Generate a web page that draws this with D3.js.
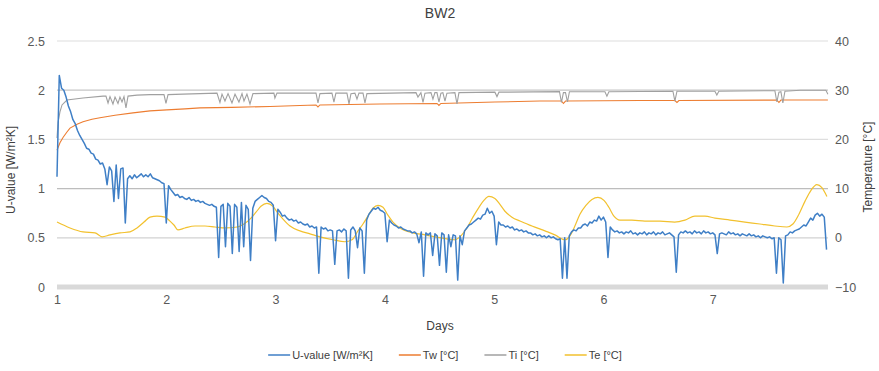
<!DOCTYPE html>
<html>
<head>
<meta charset="utf-8">
<script src="https://cdn.jsdelivr.net/npm/d3@7"></script>
<style>
  body { margin: 0; background: #fff; }
  text { font-family: "Liberation Sans", Arial, sans-serif; }
</style>
</head>
<body>
<svg id="chart" width="879" height="371"></svg>
<script>
// U-value logged every half hour, starting at day 1
const uStartDay = 1;
const uStepDays = 1 / 48;
const uValue = [
  // day 1
  1.12,2.15,2.02,2.00,1.93,1.84,1.78,1.70,1.66,1.59,1.54,1.50,1.46,1.41,1.40,1.36,
  1.35,1.30,1.29,1.25,1.26,1.20,1.04,1.22,1.18,0.87,1.24,0.90,1.20,1.21,0.65,1.10,
  1.13,1.10,1.14,1.11,1.13,1.15,1.12,1.14,1.12,1.15,1.11,1.10,1.09,1.08,1.06,1.05,
  // day 2
  0.65,1.03,0.99,0.96,0.93,0.94,0.91,0.92,0.90,0.89,0.91,0.88,0.89,0.87,0.88,0.86,
  0.87,0.85,0.84,0.83,0.84,0.82,0.81,0.30,0.82,0.84,0.41,0.85,0.82,0.34,0.84,0.81,
  0.36,0.86,0.41,0.83,0.79,0.27,0.80,0.87,0.89,0.91,0.93,0.91,0.90,0.87,0.86,0.83,
  // day 3
  0.47,0.79,0.76,0.72,0.73,0.70,0.68,0.69,0.67,0.68,0.65,0.66,0.64,0.63,0.64,0.61,
  0.62,0.60,0.61,0.14,0.61,0.59,0.60,0.57,0.58,0.57,0.23,0.57,0.58,0.56,0.59,0.57,
  0.09,0.58,0.61,0.57,0.40,0.60,0.57,0.14,0.68,0.74,0.77,0.80,0.79,0.81,0.78,0.77,
  // day 4
  0.75,0.46,0.68,0.65,0.63,0.62,0.60,0.61,0.59,0.58,0.57,0.57,0.55,0.56,0.54,0.45,
  0.56,0.11,0.55,0.53,0.55,0.32,0.54,0.52,0.22,0.55,0.53,0.15,0.53,0.41,0.53,0.52,
  0.07,0.52,0.43,0.57,0.60,0.63,0.64,0.66,0.68,0.70,0.69,0.73,0.74,0.80,0.75,0.77,
  // day 5
  0.72,0.43,0.66,0.63,0.63,0.61,0.62,0.60,0.61,0.58,0.59,0.57,0.58,0.56,0.57,0.55,
  0.55,0.53,0.54,0.52,0.53,0.51,0.52,0.50,0.52,0.50,0.51,0.49,0.48,0.49,0.09,0.50,
  0.09,0.52,0.56,0.58,0.57,0.60,0.60,0.63,0.64,0.62,0.66,0.65,0.68,0.67,0.72,0.68,
  // day 6
  0.71,0.66,0.30,0.61,0.58,0.56,0.57,0.55,0.56,0.54,0.56,0.55,0.57,0.54,0.55,0.53,
  0.55,0.54,0.56,0.53,0.55,0.54,0.56,0.53,0.55,0.54,0.56,0.53,0.54,0.55,0.53,0.51,
  0.15,0.53,0.56,0.55,0.57,0.55,0.56,0.54,0.57,0.55,0.56,0.54,0.57,0.55,0.56,0.54,
  // day 7 and the start of day 8
  0.55,0.53,0.34,0.54,0.55,0.54,0.53,0.56,0.54,0.55,0.53,0.54,0.52,0.54,0.53,0.52,
  0.54,0.52,0.53,0.51,0.52,0.50,0.52,0.51,0.50,0.51,0.49,0.50,0.14,0.50,0.48,0.04,
  0.52,0.53,0.56,0.55,0.57,0.58,0.59,0.61,0.63,0.62,0.66,0.70,0.68,0.73,0.75,0.72,
  0.74,0.71,0.38
];

// Wall surface temperature Tw [°C] as [day, value]
const twPairs = [
  [1.000,17.8],[1.027,19.3],[1.055,20.4],[1.091,21.5],[1.119,22.3],[1.183,23.1],
  [1.238,23.6],[1.320,24.1],[1.393,24.4],[1.531,24.9],[1.695,25.4],[1.851,25.8],
  [2.006,26.0],[2.171,26.2],[2.308,26.4],[2.601,26.5],[2.949,26.7],[3.223,26.9],
  [3.370,27.0],[3.388,26.6],[3.406,27.0],[3.955,27.2],[4.477,27.3],[4.495,26.9],
  [4.513,27.3],[5.007,27.6],[5.419,27.8],[5.616,27.8],[5.634,27.3],[5.653,27.8],
  [6.334,27.9],[6.654,27.9],[6.673,27.5],[6.691,27.9],[7.587,28.0],[7.606,27.5],
  [7.624,28.0],[8.054,28.0]
];

// Indoor air temperature Ti [°C] as [day, value]
const tiPairs = [
  [1.000,20.3],[1.010,23.5],[1.027,25.6],[1.046,27.0],[1.091,28.0],[1.238,28.4],
  [1.421,28.8],[1.448,28.8],[1.467,27.4],[1.485,28.7],[1.512,27.2],[1.531,28.6],
  [1.558,27.3],[1.576,28.6],[1.595,27.6],[1.613,28.7],[1.631,26.4],[1.650,28.8],
  [1.732,29.0],[1.851,29.1],[1.979,29.1],[1.997,27.3],[2.016,29.1],[2.153,29.2],
  [2.464,29.4],[2.491,27.5],[2.510,29.2],[2.537,27.8],[2.565,29.3],[2.601,27.4],
  [2.629,29.2],[2.665,27.6],[2.693,29.3],[2.711,27.8],[2.738,29.2],[2.766,27.2],
  [2.793,29.3],[2.985,29.4],[2.994,28.4],[3.013,29.4],[3.370,29.4],[3.388,27.4],
  [3.406,29.3],[3.516,29.4],[3.534,27.6],[3.552,29.4],[3.653,29.4],[3.672,27.2],
  [3.690,29.3],[3.726,29.4],[3.745,28.2],[3.763,29.4],[3.800,29.4],[3.818,27.4],
  [3.836,29.3],[4.285,29.5],[4.303,28.6],[4.330,29.5],[4.349,27.5],[4.367,29.4],
  [4.422,29.5],[4.440,28.2],[4.458,29.5],[4.477,29.5],[4.495,27.6],[4.513,29.4],
  [4.531,29.5],[4.550,27.8],[4.568,29.4],[4.641,29.5],[4.660,27.2],[4.678,29.5],
  [5.007,29.6],[5.026,28.7],[5.044,29.6],[5.598,29.7],[5.616,27.5],[5.634,29.5],
  [5.653,29.5],[5.671,27.6],[5.689,29.7],[6.014,29.7],[6.032,28.8],[6.050,29.7],
  [6.636,29.8],[6.654,27.8],[6.673,29.8],[7.020,29.8],[7.038,29.0],[7.056,29.8],
  [7.569,29.9],[7.587,27.6],[7.606,29.6],[7.624,29.7],[7.642,27.4],[7.661,29.8],
  [7.800,30.0],[8.036,30.0],[8.054,29.2]
];

// Outdoor air temperature Te [°C] as [day, value]
const tePairs = [
  [1.000,3.2],[1.119,2.0],[1.238,1.2],[1.348,1.0],[1.412,0.2],[1.485,0.6],
  [1.576,1.0],[1.668,1.2],[1.732,2.0],[1.796,3.2],[1.851,4.2],[1.915,4.4],
  [1.988,4.2],[2.034,3.4],[2.070,2.6],[2.107,1.6],[2.171,2.0],[2.263,2.4],
  [2.354,2.4],[2.446,2.2],[2.537,2.0],[2.647,2.2],[2.711,2.8],[2.766,3.8],
  [2.821,5.2],[2.866,6.4],[2.921,7.0],[2.976,6.4],[3.022,5.0],[3.068,3.8],
  [3.132,2.4],[3.223,1.4],[3.315,0.8],[3.406,0.2],[3.525,-0.4],[3.635,-0.8],
  [3.699,-0.4],[3.754,1.4],[3.800,2.8],[3.845,4.4],[3.891,6.0],[3.937,6.6],
  [3.983,6.2],[4.028,4.6],[4.074,3.2],[4.138,2.0],[4.257,1.0],[4.367,0.6],
  [4.458,0.2],[4.568,-0.2],[4.641,-0.4],[4.696,0.4],[4.751,2.0],[4.806,4.2],
  [4.861,6.2],[4.906,7.6],[4.952,8.4],[5.007,8.0],[5.053,6.8],[5.099,5.4],
  [5.163,4.2],[5.236,3.4],[5.346,2.4],[5.465,1.4],[5.556,0.6],[5.648,-0.4],
  [5.694,0.4],[5.739,2.4],[5.785,4.8],[5.840,6.6],[5.895,7.8],[5.950,8.2],
  [6.005,7.6],[6.050,6.2],[6.096,4.4],[6.151,3.6],[6.261,3.6],[6.380,3.4],
  [6.517,3.4],[6.652,3.2],[6.746,3.6],[6.837,4.4],[6.929,4.4],[7.020,4.0],
  [7.158,3.6],[7.295,3.2],[7.432,2.8],[7.569,2.4],[7.679,2.2],[7.734,2.8],
  [7.789,4.8],[7.844,7.4],[7.898,9.6],[7.953,10.8],[7.999,10.2],[8.045,8.4]
];

const dayTicks = [1, 2, 3, 4, 5, 6, 7];
const uTicks = [0, 0.5, 1, 1.5, 2, 2.5];
const tTicks = [-10, 0, 10, 20, 30, 40];

const legendItems = [
  { label: "U-value [W/m²K]", color: "#3f7fc6" },
  { label: "Tw [°C]", color: "#ed7d31" },
  { label: "Ti [°C]", color: "#a0a0a0" },
  { label: "Te [°C]", color: "#f2c12e" }
];

const svg = d3.select("#chart");
const plot = { left: 57, right: 828, top: 41, bottom: 287 };

const x = d3.scaleLinear().domain([1, 8.055]).range([plot.left, plot.right]);
const yU = d3.scaleLinear().domain([0, 2.5]).range([plot.bottom, plot.top]);
const yT = d3.scaleLinear().domain([-10, 40]).range([plot.bottom, plot.top]);

// horizontal gridlines
const gridShade = { 0.5: "#d2d2d2", 1: "#bdbdbd", 1.5: "#dedede", 2: "#c6c6c6", 2.5: "#dedede" };
svg.append("g")
  .selectAll("line")
  .data(uTicks.filter(v => v > 0))
  .join("line")
  .attr("x1", plot.left).attr("x2", plot.right)
  .attr("y1", d => yU(d)).attr("y2", d => yU(d))
  .attr("stroke", d => gridShade[d])
  .attr("stroke-width", 1.2);

// heavy baseline at zero
svg.append("line")
  .attr("x1", plot.left).attr("x2", plot.right)
  .attr("y1", yU(0)).attr("y2", yU(0))
  .attr("stroke", "#d9d9d9").attr("stroke-width", 5);

// left axis
const leftAxis = svg.append("g")
  .attr("transform", `translate(${plot.left - 12},0)`)
  .call(d3.axisLeft(yU).tickValues(uTicks).tickSize(0).tickPadding(0).tickFormat(d3.format("")));
leftAxis.select(".domain").remove();
leftAxis.selectAll("text").attr("font-size", 12.5).attr("fill", "#595959")
  .style("font-family", '"Liberation Sans", Arial, sans-serif');

// right axis
const rightAxis = svg.append("g")
  .attr("transform", `translate(${plot.right + 7},0)`)
  .call(d3.axisRight(yT).tickValues(tTicks).tickSize(0).tickPadding(0).tickFormat(d3.format("")));
rightAxis.select(".domain").remove();
rightAxis.selectAll("text").attr("font-size", 12.5).attr("fill", "#595959")
  .style("font-family", '"Liberation Sans", Arial, sans-serif');

// bottom axis
const bottomAxis = svg.append("g")
  .attr("transform", `translate(0,${plot.bottom + 8})`)
  .call(d3.axisBottom(x).tickValues(dayTicks).tickSize(0).tickPadding(0).tickFormat(d3.format("d")));
bottomAxis.select(".domain").remove();
bottomAxis.selectAll("text").attr("font-size", 12.5).attr("fill", "#595959")
  .style("font-family", '"Liberation Sans", Arial, sans-serif');

// titles
svg.append("text").attr("x", 440).attr("y", 18).attr("text-anchor", "middle")
  .attr("font-size", 14).attr("fill", "#404040").text("BW2");
svg.append("text").attr("x", 440).attr("y", 330).attr("text-anchor", "middle")
  .attr("font-size", 12).attr("fill", "#404040").text("Days");
svg.append("text").attr("transform", "translate(15,170) rotate(-90)").attr("text-anchor", "middle")
  .attr("font-size", 12).attr("fill", "#404040").text("U-value [W/m²K]");
svg.append("text").attr("transform", "translate(872,167) rotate(-90)").attr("text-anchor", "middle")
  .attr("font-size", 12).attr("fill", "#404040").text("Temperature [°C]");

// series
const lineT = d3.line().x(d => x(d[0])).y(d => yT(d[1]));
const lineTe = d3.line().x(d => x(d[0])).y(d => yT(d[1])).curve(d3.curveMonotoneX);
const lineU = d3.line().x((d, i) => x(uStartDay + i * uStepDays)).y(d => yU(d));

svg.append("path").datum(twPairs).attr("d", lineT)
  .attr("fill", "none").attr("stroke", legendItems[1].color).attr("stroke-width", 1.1);
svg.append("path").datum(tiPairs).attr("d", lineT)
  .attr("fill", "none").attr("stroke", legendItems[2].color).attr("stroke-width", 1.1);
svg.append("path").datum(tePairs).attr("d", lineTe)
  .attr("fill", "none").attr("stroke", legendItems[3].color).attr("stroke-width", 1.2);
svg.append("path").datum(uValue).attr("d", lineU)
  .attr("fill", "none").attr("stroke", legendItems[0].color).attr("stroke-width", 1.5)
  .attr("stroke-linejoin", "round");

// legend
const legend = svg.append("g");
const entries = legend.selectAll("g").data(legendItems).join("g");
entries.append("line").attr("x1", 0).attr("x2", 22).attr("y1", 0).attr("y2", 0)
  .attr("stroke", d => d.color).attr("stroke-width", 1.5);
entries.append("text").attr("x", 24).attr("y", 4).attr("font-size", 11)
  .attr("fill", "#404040").text(d => d.label);
let cursor = 0;
entries.each(function () {
  const g = d3.select(this);
  g.attr("transform", `translate(${cursor},0)`);
  cursor += 24 + g.select("text").node().getComputedTextLength() + 26;
});
const legendWidth = cursor - 26;
legend.attr("transform", `translate(${445 - legendWidth / 2},355)`);
</script>
</body>
</html>
